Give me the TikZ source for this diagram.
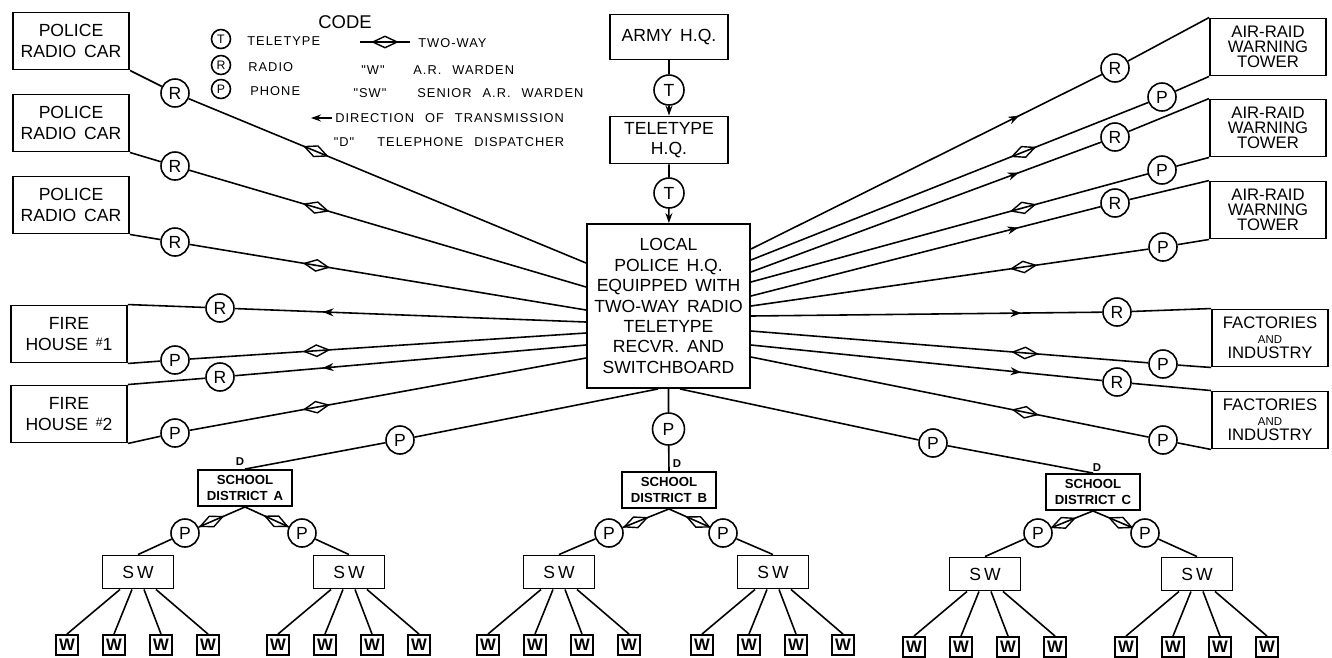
\documentclass[tikz,border=0pt]{standalone}
\usepackage{fontspec}
\setmainfont[WordSpace=1.6]{Liberation Sans}
\newfontfamily\keyfont[LetterSpace=8,WordSpace=2.4]{Liberation Sans}
\usetikzlibrary{positioning, arrows.meta, shapes.geometric, calc, decorations.markings}

\begin{document}
\begin{tikzpicture}[
    x=0.02cm, y=-0.02cm,
    box/.style={rectangle, draw, line width=1.1pt, align=center, inner sep=1pt, font=\fontsize{10}{11.6}\selectfont},
    unitbox/.style={box, minimum width=2.32cm, minimum height=1.14cm},
    towerbox/.style={unitbox, font=\fontsize{9.5}{8.6}\selectfont},
    distbox/.style={box, minimum width=1.88cm, minimum height=0.72cm, font=\fontsize{7.5}{9.4}\selectfont\bfseries},
    swbox/.style={box, minimum width=1.42cm, minimum height=0.66cm},
    wbox/.style={box, minimum width=0.44cm, minimum height=0.4cm, inner sep=0pt, font=\fontsize{9.5}{9.5}\selectfont\bfseries},
    sig/.style={circle, draw, line width=0.9pt, minimum size=0.56cm, inner sep=0pt, font=\fontsize{10}{10}\selectfont},
    keysig/.style={sig, minimum size=0.38cm, font=\fontsize{7}{7}\selectfont},
    twoway/.style={diamond, draw, line width=0.8pt, sloped, minimum width=0.5cm, minimum height=0.24cm, inner sep=0pt},
    link/.style={line width=0.9pt},
    fwd/.style={postaction={decorate}, decoration={markings, mark=at position #1 with {\arrow{Stealth[length=0.22cm, width=0.16cm]}}}},
    keytext/.style={anchor=west, inner sep=0pt, font=\keyfont\fontsize{7.3}{7.3}\selectfont},
    dlabel/.style={inner sep=0pt, font=\fontsize{6.5}{6.5}\selectfont\bfseries}
]
\useasboundingbox (0,0) rectangle (1332,657);

% Code key
\node[keysig] (kt) at (221,39) {T};
\node[keysig] (kr) at (221,65) {R};
\node[keysig] (kp) at (221,89) {P};
\node[keytext] (ktt) at (247,41) {TELETYPE};
\node[keytext] (krt) at (248,67) {RADIO};
\node[keytext] (kpt) at (250,91) {PHONE};
\node[font=\fontsize{10.5}{10.5}\selectfont] (code) at (345,22) {CODE};
\coordinate (kd1) at (360,42);
\coordinate (kd2) at (410,42);
\draw[link] (kd1) -- node[twoway] {} (kd2);
\node[keytext] (kdt) at (418,43) {TWO-WAY};
\node[keytext, anchor=center] (kw) at (373,70) {"W"};
\node[keytext] (kwt) at (413,70) {A.R. WARDEN};
\node[keytext, anchor=center] (ksw) at (370,93) {"SW"};
\node[keytext] (kswt) at (417,93) {SENIOR A.R. WARDEN};
\coordinate (ka1) at (332,118);
\coordinate (ka2) at (311,118);
\draw[link, -{Stealth[length=0.2cm, width=0.14cm]}] (ka1) -- (ka2);
\node[keytext] (kat) at (335,118) {DIRECTION OF TRANSMISSION};
\node[keytext, anchor=center] (kdd) at (344,142) {"D"};
\node[keytext] (kddt) at (377,142) {TELEPHONE DISPATCHER};

% Headquarters
\node[box, minimum width=2.36cm, minimum height=0.9cm] (army) at (669,37) {ARMY H.Q.};
\node[sig, minimum size=0.6cm] (t1) at (669,90) {T};
\node[box, minimum width=2.36cm, minimum height=0.94cm] (tty) at (669,140) {TELETYPE\\H.Q.};
\node[sig, minimum size=0.6cm] (t2) at (669,193) {T};
\node[box, minimum width=3.26cm, minimum height=3.28cm] (hq) at (668.5,306) {LOCAL\\POLICE H.Q.\\EQUIPPED WITH\\TWO-WAY RADIO\\TELETYPE\\RECVR. AND\\SWITCHBOARD};

% Left side
\node[unitbox] (pc1) at (71,41) {POLICE\\RADIO CAR};
\node[unitbox] (pc2) at (71,123) {POLICE\\RADIO CAR};
\node[unitbox] (pc3) at (71,205) {POLICE\\RADIO CAR};
\node[unitbox] (fh1) at (69,334) {FIRE\\HOUSE {\scriptsize\raisebox{0.6ex}{\#}}1};
\node[unitbox] (fh2) at (69,414) {FIRE\\HOUSE {\scriptsize\raisebox{0.6ex}{\#}}2};
\node[sig] (r1) at (175,93) {R};
\node[sig] (r2) at (175,166) {R};
\node[sig] (r3) at (175,242) {R};
\node[sig] (fr1) at (220,308) {R};
\node[sig] (fp1) at (175,360) {P};
\node[sig] (fr2) at (220,377) {R};
\node[sig] (fp2) at (175,433) {P};

% Right side
\node[towerbox] (at1) at (1268,47) {AIR-RAID\\WARNING\\TOWER};
\node[towerbox] (at2) at (1268,128) {AIR-RAID\\WARNING\\TOWER};
\node[towerbox] (at3) at (1268,210) {AIR-RAID\\WARNING\\TOWER};
\node[towerbox] (fi1) at (1270,338) {FACTORIES\\{\fontsize{6.5}{7}\selectfont AND}\\INDUSTRY};
\node[towerbox] (fi2) at (1270,420) {FACTORIES\\{\fontsize{6.5}{7}\selectfont AND}\\INDUSTRY};
\node[sig] (tr1) at (1115,68) {R};
\node[sig] (tp1) at (1162,97) {P};
\node[sig] (tr2) at (1115,137) {R};
\node[sig] (tp2) at (1162,170) {P};
\node[sig] (tr3) at (1115,203) {R};
\node[sig] (tp3) at (1163,247) {P};
\node[sig] (fir1) at (1117,312) {R};
\node[sig] (fip1) at (1163,364) {P};
\node[sig] (fir2) at (1117,382) {R};
\node[sig] (fip2) at (1163,440) {P};

% School districts
\node[sig] (dpA) at (400,440) {P};
\node[sig, minimum size=0.64cm] (dpB) at (668.5,429) {P};
\node[sig] (dpC) at (933,443) {P};
\node[distbox] (distA) at (245,488) {SCHOOL\\DISTRICT A};
\node[distbox] (distB) at (669,490) {SCHOOL\\DISTRICT B};
\node[distbox] (distC) at (1093,492) {SCHOOL\\DISTRICT C};
\node[dlabel] at (240,462) {D};
\node[dlabel] at (677,464) {D};
\node[dlabel] at (1097,468) {D};
\node[sig] (pAl) at (185,533) {P};
\node[sig] (pAr) at (302,533) {P};
\node[sig] (pBl) at (609,533) {P};
\node[sig] (pBr) at (723,533) {P};
\node[sig] (pCl) at (1038,533) {P};
\node[sig] (pCr) at (1145,533) {P};
\node[swbox] (swAl) at (138,572) {S\,W};
\node[swbox] (swAr) at (349,572) {S\,W};
\node[swbox] (swBl) at (559,572) {S\,W};
\node[swbox] (swBr) at (773,572) {S\,W};
\node[swbox] (swCl) at (985,574) {S\,W};
\node[swbox] (swCr) at (1197,574) {S\,W};

% Paths
\draw[link, -{Stealth[length=0.2cm, width=0.14cm]}] (army) -- (t1) -- (tty);
\draw[link, -{Stealth[length=0.2cm, width=0.14cm]}] (tty) -- (t2) -- (hq);

\draw[link] (pc1.south east) -- (r1);
\draw[link] (hq.west |- 0,263) -- node[twoway, pos=0.68] {} (r1);
\draw[link] (pc2.south east) -- (r2);
\draw[link] (hq.west |- 0,287) -- node[twoway, pos=0.68] {} (r2);
\draw[link] (pc3.south east) -- (r3);
\draw[link] (hq.west |- 0,310) -- node[twoway, pos=0.68] {} (r3);
\draw[link] (fh1.north east) -- (fr1);
\draw[link, fwd=0.75] (hq.west |- 0,322) -- (fr1);
\draw[link] (fh1.south east) -- (fp1);
\draw[link] (hq.west |- 0,333) -- node[twoway, pos=0.68] {} (fp1);
\draw[link] (fh2.north east) -- (fr2);
\draw[link, fwd=0.75] (hq.west |- 0,345) -- (fr2);
\draw[link] (fh2.south east) -- (fp2);
\draw[link] (hq.west |- 0,358) -- node[twoway, pos=0.68] {} (fp2);

\draw[link] (tr1) -- (at1.north west);
\draw[link, fwd=0.765] (hq.east |- 0,249) -- (tr1);
\draw[link] (tp1) -- (at1.south west);
\draw[link] (hq.east |- 0,260) -- node[twoway, pos=0.686] {} (tp1);
\draw[link] (tr2) -- (at2.north west);
\draw[link, fwd=0.765] (hq.east |- 0,272) -- (tr2);
\draw[link] (tp2) -- (at2.south west);
\draw[link] (hq.east |- 0,282) -- node[twoway, pos=0.686] {} (tp2);
\draw[link] (tr3) -- (at3.north west);
\draw[link, fwd=0.765] (hq.east |- 0,296) -- (tr3);
\draw[link] (tp3) -- (at3.south west);
\draw[link] (hq.east |- 0,306) -- node[twoway, pos=0.686] {} (tp3);
\draw[link] (fir1) -- (fi1.north west);
\draw[link, fwd=0.77] (hq.east |- 0,316) -- (fir1);
\draw[link] (fip1) -- (fi1.south west);
\draw[link] (hq.east |- 0,331) -- node[twoway, pos=0.69] {} (fip1);
\draw[link] (fir2) -- (fi2.north west);
\draw[link, fwd=0.77] (hq.east |- 0,345) -- (fir2);
\draw[link] (fip2) -- (fi2.south west);
\draw[link] (hq.east |- 0,357) -- node[twoway, pos=0.69] {} (fip2);

\draw[link] (hq.south -| 658,0) -- (dpA) -- (distA.north);
\draw[link] (hq.south) -- (dpB) -- (distB.north);
\draw[link] (hq.south -| 680,0) -- (dpC) -- (distC.north);

\foreach \d in {A,B,C} {
  \draw[link] (dist\d.south) -- node[twoway, pos=0.72] {} (p\d l);
  \draw[link] (dist\d.south) -- node[twoway, pos=0.72] {} (p\d r);
  \draw[link] (p\d l) -- (sw\d l.north);
  \draw[link] (p\d r) -- (sw\d r.north);
}

% Wardens
\foreach \s in {swAl,swAr,swBl,swBr,swCl,swCr}
  \foreach \i/\o/\d in {1/-71/-18, 2/-24/-6, 3/23/6, 4/70/18} {
    \node[wbox] (\s-w\i) at ($(\s)+(\o,73)$) {W};
    \draw[link] ($(\s.south)+(\d,0)$) -- (\s-w\i.north);
  }

\end{tikzpicture}
\end{document}
